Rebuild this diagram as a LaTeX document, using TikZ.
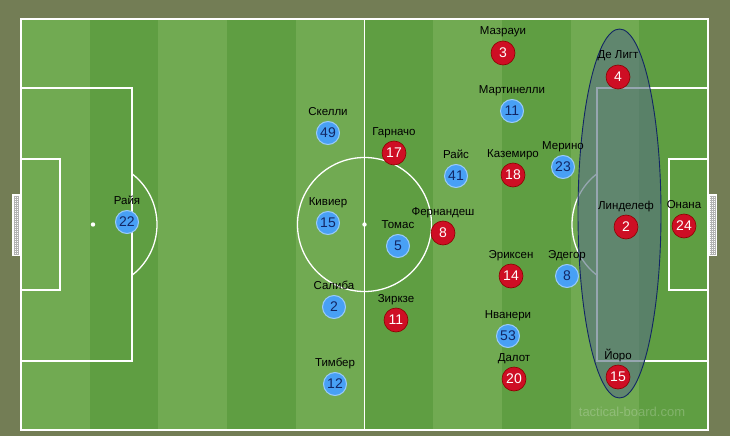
\documentclass[tikz,border=0pt]{standalone}
\usepackage{fontspec}
\setmainfont{Liberation Sans}
\usetikzlibrary{positioning}

\definecolor{olivebg}{RGB}{115,125,85}
\definecolor{grasslight}{RGB}{113,170,82}
\definecolor{grassdark}{RGB}{95,158,66}
\definecolor{redfill}{RGB}{206,14,36}
\definecolor{bluefill}{RGB}{72,160,245}
\definecolor{navyline}{RGB}{18,38,100}
\definecolor{ellfill}{RGB}{86,112,128}

\begin{document}
\begin{tikzpicture}[x=1pt, y=-1pt,
            pitchline/.style={draw=white, line width=1.3pt},
            redpl/.style={circle, draw=red!55!black, line width=0.6pt, fill=redfill,
                text=white, minimum size=24pt, inner sep=0pt,
                font=\fontsize{14}{14}\selectfont},
            bluepl/.style={circle, draw=bluefill!55!white, line width=1pt, fill=bluefill,
                text=navyline, minimum size=23pt, inner sep=0pt,
                font=\fontsize{14}{14}\selectfont},
            plname/.style={inner sep=0pt, text height=8pt, text depth=2.5pt,
                font=\fontsize{11.5}{13}\selectfont}]
        % background and stripes
        \useasboundingbox (0,0) rectangle (730,436);
        \fill[olivebg] (0,0) rectangle (730,436);
        \foreach \i in {0,...,9} {
            \pgfmathsetmacro{\xa}{21+68.7*\i}
            \pgfmathsetmacro{\xb}{21+68.7*(\i+1)}
            \ifodd\i
                \fill[grassdark] (\xa,19) rectangle (\xb,430);
            \else
                \fill[grasslight] (\xa,19) rectangle (\xb,430);
            \fi
        }
        % goal nets
        \fill[white] (12,194) rectangle (20,256);
        \fill[white] (708,194) rectangle (717,256);
        \foreach \yy in {196,198,...,254} {
            \draw[gray!60, line width=0.3pt] (13.5,\yy) -- (19,\yy);
            \draw[gray!60, line width=0.3pt] (709.5,\yy) -- (715.5,\yy);
        }
        \foreach \xx in {14,16,18} \draw[gray!60, line width=0.3pt] (\xx,195.5) -- (\xx,254.5);
        \foreach \xx in {711,713,715} \draw[gray!60, line width=0.3pt] (\xx,195.5) -- (\xx,254.5);
        % pitch markings
        \draw[pitchline] (21,19) rectangle (708,430);
        \draw[pitchline] (364.5,19) -- (364.5,430);
        \draw[pitchline] (364.5,224.5) circle (67);
        \draw[pitchline] (21,88) rectangle (132,361);
        \draw[pitchline] (21,159) rectangle (60,290);
        \draw[pitchline] (708,88) rectangle (597,361);
        \draw[pitchline] (708,159) rectangle (669,290);
        \begin{scope}
            \clip (132,19) rectangle (597,430);
            \draw[pitchline] (93,224.5) circle (64);
            \draw[pitchline] (636,224.5) circle (64);
        \end{scope}
        \fill[white] (364.5,224.5) circle (2.2);
        \fill[white] (93,224.5) circle (2.2);
        \fill[white] (636,224.5) circle (2.2);
        % highlighted zone
        \draw[navyline, line width=0.9pt, fill=ellfill, fill opacity=0.62] (619.5,213.5) ellipse (41.5 and 184.5);
        % watermark
        \node[text=white, opacity=0.22, font=\fontsize{13}{13}\selectfont] (watermark) at (632,412) {tactical-board.com};

        % blue team
        \node[bluepl] (raya) at (127,222) {22};
        \node[plname, above=3pt of raya] (rayaN) {Райя};
        \node[bluepl] (skelli) at (328,133) {49};
        \node[plname, above=3pt of skelli] (skelliN) {Скелли};
        \node[bluepl] (kivier) at (328,223) {15};
        \node[plname, above=3pt of kivier] (kivierN) {Кивиер};
        \node[bluepl] (saliba) at (334,307) {2};
        \node[plname, above=3pt of saliba] (salibaN) {Салиба};
        \node[bluepl] (timber) at (335,384) {12};
        \node[plname, above=3pt of timber] (timberN) {Тимбер};
        \node[bluepl] (tomas) at (398,246) {5};
        \node[plname, above=3pt of tomas] (tomasN) {Томас};
        \node[bluepl] (rais) at (456,176) {41};
        \node[plname, above=3pt of rais] (raisN) {Райс};
        \node[bluepl] (martinelli) at (512,111) {11};
        \node[plname, above=3pt of martinelli] (martinelliN) {Мартинелли};
        \node[bluepl] (merino) at (563,167) {23};
        \node[plname, above=3pt of merino] (merinoN) {Мерино};
        \node[bluepl] (edegor) at (567,276) {8};
        \node[plname, above=3pt of edegor] (edegorN) {Эдегор};
        \node[bluepl] (nvaneri) at (508,336) {53};
        \node[plname, above=3pt of nvaneri] (nvaneriN) {Нванери};

        % red team
        \node[redpl] (garnacho) at (394,153) {17};
        \node[plname, above=3pt of garnacho] (garnachoN) {Гарначо};
        \node[redpl] (fernandesh) at (443,233) {8};
        \node[plname, above=3pt of fernandesh] (fernandeshN) {Фернандеш};
        \node[redpl] (zirkze) at (396,320) {11};
        \node[plname, above=3pt of zirkze] (zirkzeN) {Зиркзе};
        \node[redpl] (mazraui) at (503,53) {3};
        \node[plname, above=3pt of mazraui] (mazrauiN) {Мазрауи};
        \node[redpl] (kazemiro) at (513,175) {18};
        \node[plname, above=3pt of kazemiro] (kazemiroN) {Каземиро};
        \node[redpl] (eriksen) at (511,276) {14};
        \node[plname, above=3pt of eriksen] (eriksenN) {Эриксен};
        \node[redpl] (dalot) at (514,379) {20};
        \node[plname, above=3pt of dalot] (dalotN) {Далот};
        \node[redpl] (deligt) at (618,77) {4};
        \node[plname, above=3pt of deligt] (deligtN) {Де Лигт};
        \node[redpl] (lindelof) at (626,227) {2};
        \node[plname, above=3pt of lindelof] (lindelofN) {Линделеф};
        \node[redpl] (yoro) at (618,377) {15};
        \node[plname, above=3pt of yoro] (yoroN) {Йоро};
        \node[redpl] (onana) at (684,226) {24};
        \node[plname, above=3pt of onana] (onanaN) {Онана};
\end{tikzpicture}
\end{document}
